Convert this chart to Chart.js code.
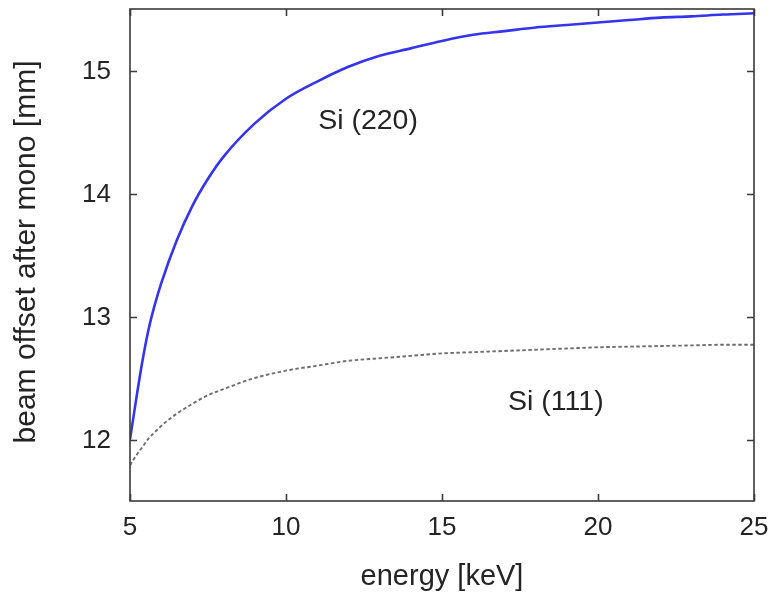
<!DOCTYPE html>
<html>
<head>
<meta charset="utf-8">
<script src="https://cdn.jsdelivr.net/npm/chart.js@4.4.1/dist/chart.umd.min.js"></script>
<style>
  html, body { margin: 0; padding: 0; background: #ffffff; }
  #wrap { width: 780px; height: 597px; position: relative; }
</style>
</head>
<body>
<div id="wrap"><canvas id="c"></canvas></div>
<script>
// Photon energy in keV
const energy = [5, 5.2, 5.4, 5.6, 5.8, 6, 6.5, 7, 7.5, 8, 9, 10, 11, 12, 13, 14, 15, 16, 17, 18, 19, 20, 21, 22, 23, 24, 25];
// Beam offset after the monochromator (mm) for each crystal cut
const si220 = [12.00, 12.33, 12.64, 12.90, 13.10, 13.27, 13.62, 13.90, 14.12, 14.30, 14.57, 14.77, 14.91, 15.03, 15.12, 15.18, 15.24, 15.29, 15.32, 15.35, 15.37, 15.39, 15.41, 15.43, 15.44, 15.455, 15.465];
const si111 = [11.79, 11.87, 11.94, 12.01, 12.06, 12.11, 12.21, 12.29, 12.36, 12.41, 12.50, 12.56, 12.60, 12.64, 12.66, 12.68, 12.70, 12.71, 12.72, 12.73, 12.74, 12.75, 12.755, 12.76, 12.765, 12.77, 12.77];

const xTicks = [5, 10, 15, 20, 25];
const yTicks = [12, 13, 14, 15];
const xTitle = 'energy [keV]';
const yTitle = 'beam offset after mono [mm]';
const curveNames = ['Si (220)', 'Si (111)'];
const curveNameAt = [[12.63, 14.59], [18.65, 12.30]];

const FONT = '"Liberation Sans", Arial, Helvetica, sans-serif';
const TEXT = '#242424';

const toXY = (ys) => energy.map((e, i) => ({ x: e, y: ys[i] }));

// Frame, inward tick marks on all four sides, tick labels, titles and curve names
const framePlugin = {
  id: 'gnuFrame',
  afterDatasetsDraw(chart) {
    const { ctx, chartArea: a, scales: { x, y } } = chart;
    ctx.save();
    ctx.strokeStyle = '#3a3a3a';
    ctx.lineWidth = 1.6;
    ctx.strokeRect(a.left, a.top, a.right - a.left, a.bottom - a.top);

    const tl = 7;
    ctx.beginPath();
    xTicks.forEach(v => {
      const px = Math.round(x.getPixelForValue(v)) + 0.5;
      ctx.moveTo(px, a.bottom); ctx.lineTo(px, a.bottom - tl);
      ctx.moveTo(px, a.top); ctx.lineTo(px, a.top + tl);
    });
    yTicks.forEach(v => {
      const py = Math.round(y.getPixelForValue(v)) + 0.5;
      ctx.moveTo(a.left, py); ctx.lineTo(a.left + tl, py);
      ctx.moveTo(a.right, py); ctx.lineTo(a.right - tl, py);
    });
    ctx.stroke();

    ctx.fillStyle = TEXT;
    ctx.font = '26px ' + FONT;
    ctx.textAlign = 'center';
    ctx.textBaseline = 'middle';
    xTicks.forEach(v => ctx.fillText(String(v), x.getPixelForValue(v), a.bottom + 27));
    ctx.textAlign = 'right';
    yTicks.forEach(v => ctx.fillText(String(v), a.left - 19, y.getPixelForValue(v) + 1));

    ctx.font = '29px ' + FONT;
    ctx.textAlign = 'center';
    ctx.fillText(xTitle, (a.left + a.right) / 2, a.bottom + 76);

    ctx.save();
    ctx.font = '30px ' + FONT;
    ctx.translate(27, 252);
    ctx.rotate(-Math.PI / 2);
    ctx.fillText(yTitle, 0, 0);
    ctx.restore();

    ctx.font = '28.5px ' + FONT;
    curveNames.forEach((t, i) => {
      ctx.fillText(t, x.getPixelForValue(curveNameAt[i][0]), y.getPixelForValue(curveNameAt[i][1]));
    });
    ctx.restore();
  }
};

new Chart(document.getElementById('c'), {
  type: 'line',
  data: {
    datasets: [
      {
        label: curveNames[0],
        data: toXY(si220),
        borderColor: 'rgb(52, 52, 238)',
        borderWidth: 2.6,
        pointRadius: 0,
        cubicInterpolationMode: 'monotone',
        fill: false
      },
      {
        label: curveNames[1],
        data: toXY(si111),
        borderColor: 'rgb(110, 110, 110)',
        borderWidth: 1.9,
        borderDash: [3.5, 2.5],
        pointRadius: 0,
        cubicInterpolationMode: 'monotone',
        fill: false
      }
    ]
  },
  options: {
    responsive: true,
    maintainAspectRatio: false,
    animation: false,
    layout: { padding: { left: 130, right: 26, top: 9, bottom: 96 } },
    plugins: { legend: { display: false }, tooltip: { enabled: false } },
    scales: {
      x: { type: 'linear', min: 5, max: 25, display: false },
      y: { type: 'linear', min: 11.5, max: 15.5, display: false }
    }
  },
  plugins: [framePlugin]
});
</script>
</body>
</html>
